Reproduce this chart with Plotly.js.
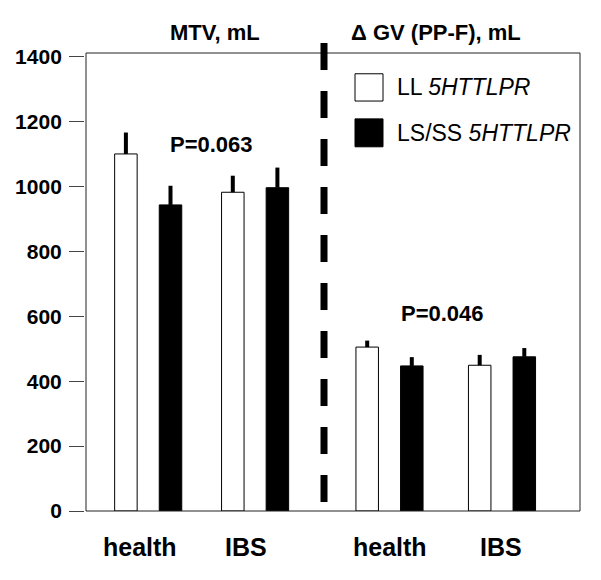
<!DOCTYPE html>
<html>
<head>
<meta charset="utf-8">
<script src="https://cdn.plot.ly/plotly-3.0.1.min.js"></script>
<style>html,body{margin:0;padding:0;background:#fff;}#chart{width:601px;height:580px;}</style>
</head>
<body>
<div id="chart"></div>
<script>
// ---- data ----
const categories = ['health', 'IBS', 'health', 'IBS'];
const panelTitles = ['MTV, mL', 'Δ GV (PP-F), mL'];
const seriesNames = ['LL <i>5HTTLPR</i>', 'LS/SS <i>5HTTLPR</i>'];
const llValues = [1100, 982, 505, 449];
const llErrors = [66, 51, 20, 32];
const lsValues = [943, 996, 447, 475];
const lsErrors = [59, 62, 27, 27];
const pLabels = ['P=0.063', 'P=0.046'];
const pHeights = [1128, 607];
const yTickVals = [0, 200, 400, 600, 800, 1000, 1200, 1400];

// ---- layout helpers (positions, not data) ----
const groupX = [1, 2.069, 3.413, 4.538];
const barW = 0.225;
const half = 0.223;
const font = 'Liberation Sans, Arial, sans-serif';

const traces = [
  {
    type: 'bar', name: seriesNames[0], x: groupX, y: llValues,
    width: barW, offset: -half - barW / 2,
    marker: {color: '#ffffff', line: {color: '#000', width: 1}},
    error_y: {type: 'data', symmetric: false, array: llErrors, arrayminus: llErrors.map(() => 0),
      color: '#000', thickness: 4, width: 0},
    showlegend: false, hoverinfo: 'skip'
  },
  {
    type: 'bar', name: seriesNames[1], x: groupX, y: lsValues,
    width: barW, offset: half - barW / 2,
    marker: {color: '#000000', line: {color: '#000', width: 1}},
    error_y: {type: 'data', symmetric: false, array: lsErrors, arrayminus: lsErrors.map(() => 0),
      color: '#000', thickness: 4, width: 0},
    showlegend: false, hoverinfo: 'skip'
  }
];

const annotations = [];
const labelShift = [-8, -9, 0, -1];
categories.forEach((c, i) => annotations.push({
  x: groupX[i], xref: 'x', y: -0.0786, yref: 'paper', text: c, showarrow: false,
  xshift: labelShift[i], xanchor: 'center', yanchor: 'middle',
  font: {family: font, size: 25, weight: 'bold', color: '#000'}
}));
const titleX = [1.663, 3.878];
panelTitles.forEach((t, i) => annotations.push({
  x: titleX[i], xref: 'x', y: 1.0437, yref: 'paper', text: t, showarrow: false,
  xanchor: 'center', yanchor: 'middle',
  font: {family: font, size: 22, weight: 'bold', color: '#000'}
}));
const pX = [1.628, 3.938];
pLabels.forEach((t, i) => annotations.push({
  x: pX[i], xref: 'x', y: pHeights[i], yref: 'y', text: t, showarrow: false,
  xanchor: 'center', yanchor: 'middle',
  font: {family: font, size: 22, weight: 'bold', color: '#000'}
}));
// legend text
const legY = [1305, 1165];
seriesNames.forEach((n, i) => annotations.push({
  x: 3.47, xref: 'x', y: legY[i], yref: 'y', text: n, showarrow: false,
  xanchor: 'left', yanchor: 'middle',
  font: {family: font, size: 23, color: '#000'}
}));

const shapes = [
  // plot frame
  {type: 'rect', xref: 'x domain', yref: 'y domain', x0: 0, x1: 1, y0: 0, y1: 1,
   line: {color: '#222', width: 1}, layer: 'above'},
  // dashed divider
  {type: 'line', xref: 'paper', yref: 'paper', x0: 0.5077, x1: 0.5077, y0: 1.0218, y1: 0.0175,
   line: {color: '#000', width: 7, dash: '27px,21px'}, layer: 'above'},
  // legend boxes
  {type: 'rect', xref: 'x', yref: 'y', x0: 3.068, x1: 3.348, y0: 1263, y1: 1347,
   line: {color: '#000', width: 1}, fillcolor: '#fff'},
  {type: 'rect', xref: 'x', yref: 'y', x0: 3.068, x1: 3.348, y0: 1122, y1: 1208,
   line: {color: '#000', width: 1}, fillcolor: '#000'}
];

const layout = {
  width: 601, height: 580,
  margin: {l: 60, r: 21, t: 53, b: 69},
  paper_bgcolor: '#fff', plot_bgcolor: '#fff',
  barmode: 'group',
  showlegend: false,
  xaxis: {domain: [0.05, 1], range: [0.378, 5.318], showticklabels: false, ticks: '',
    showgrid: false, zeroline: false, showline: false, fixedrange: true},
  yaxis: {range: [0, 1411], anchor: 'free', position: 0.0462, tickvals: yTickVals,
    ticks: 'outside', ticklen: 15, tickwidth: 1, tickcolor: '#444', ticklabelstandoff: 3,
    showgrid: false, zeroline: false, showline: false, fixedrange: true,
    tickfont: {family: font, size: 21, weight: 'bold', color: '#000'}},
  annotations: annotations,
  shapes: shapes,
  hovermode: false
};

Plotly.newPlot('chart', traces, layout, {displayModeBar: false, staticPlot: true});
</script>
</body>
</html>
